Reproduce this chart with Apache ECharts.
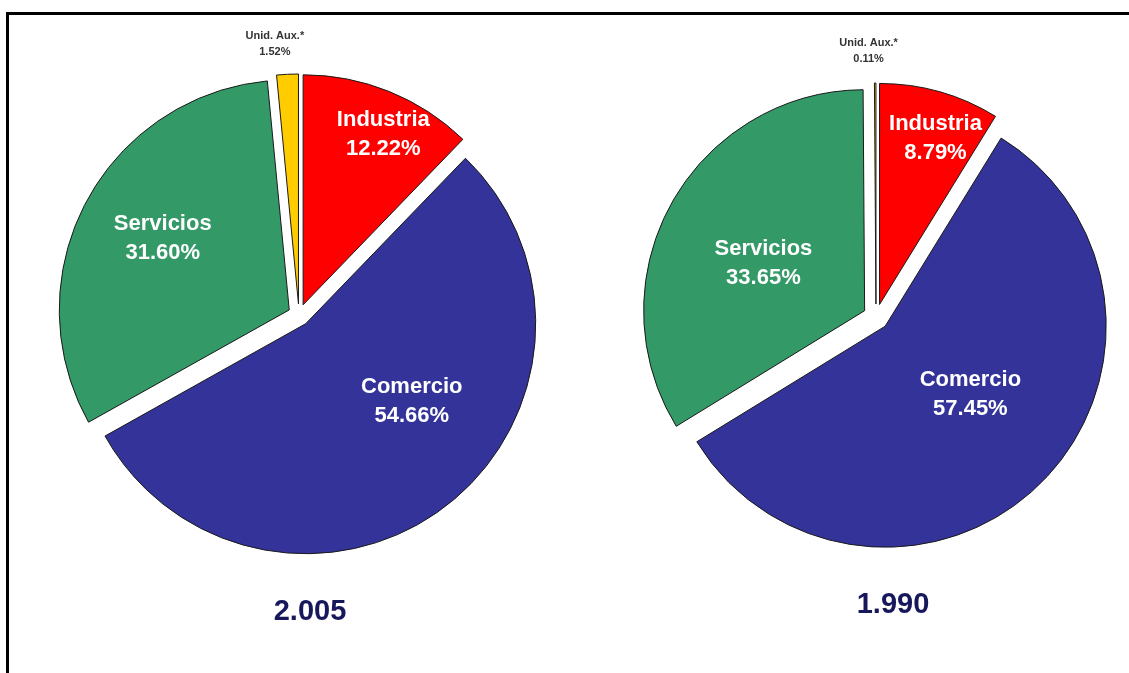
<!DOCTYPE html>
<html>
<head>
<meta charset="utf-8">
<script src="https://cdn.jsdelivr.net/npm/echarts@6/dist/echarts.min.js"></script>
<style>
  html, body { margin: 0; padding: 0; background: #fff; }
  #chart { width: 1129px; height: 673px; }
</style>
</head>
<body>
<div id="chart"></div>
<script>
// Sectores económicos: participación porcentual por año
const categories = ['Industria', 'Comercio', 'Servicios', 'Unid. Aux.*'];
const share2005 = [12.22, 54.66, 31.60, 1.52];
const share1990 = [8.79, 57.45, 33.65, 0.11];
const years = ['2.005', '1.990'];

const sliceColors = ['#FF0000', '#333399', '#339966', '#FFCC00'];

// label nudges (px) from the default inner anchor, per pie and slice
const labelNudge2005 = [[36, -61], [34, -16], [-22, -17], [-18, -142]];
const labelNudge1990 = [[25, -57], [5, -12], [-2, 8], [-7, -140]];

const fontFamily = 'Liberation Sans, Arial, sans-serif';
const mainLabel = { color: '#FFFFFF', fontFamily, fontWeight: 'bold', fontSize: 22, lineHeight: 29 };
const smallLabel = { color: '#333333', fontFamily, fontWeight: 'bold', fontSize: 11, lineHeight: 16 };

function buildData(values) {
  return categories.map((name, i) => ({
    name: name,
    value: values[i],
    selected: true,
    itemStyle: { color: sliceColors[i] },
    label: Object.assign({}, i === 3 ? smallLabel : mainLabel)
  }));
}

function pieSeries(values, nudges, center, radius, gap) {
  return {
    type: 'pie',
    center: center,
    radius: [0, radius],
    startAngle: 90,
    clockwise: true,
    selectedMode: 'multiple',
    selectedOffset: gap,
    avoidLabelOverlap: false,
    silent: true,
    animation: false,
    itemStyle: { borderColor: '#1a1a1a', borderWidth: 1 },
    select: { itemStyle: { borderColor: '#1a1a1a', borderWidth: 1 } },
    label: {
      show: true,
      position: 'inside',
      formatter: p => p.name + '\n' + p.value.toFixed(2) + '%'
    },
    labelLine: { show: false },
    labelLayout: p => ({ dx: nudges[p.dataIndex][0], dy: nudges[p.dataIndex][1] }),
    data: buildData(values)
  };
}

const chart = echarts.init(document.getElementById('chart'), null, { renderer: 'canvas' });

const yearStyle = { color: '#17175C', fontFamily, fontWeight: 'bold', fontSize: 29 };

chart.setOption({
  backgroundColor: '#FFFFFF',
  animation: false,
  title: [
    { text: years[0], left: 305, top: 592, textAlign: 'center', textStyle: yearStyle },
    { text: years[1], left: 888, top: 585, textAlign: 'center', textStyle: yearStyle }
  ],
  graphic: [
    { type: 'line', shape: { x1: 6, y1: 13.5, x2: 1129, y2: 13.5 }, style: { stroke: '#000', lineWidth: 3 } },
    { type: 'line', shape: { x1: 7.5, y1: 12, x2: 7.5, y2: 673 }, style: { stroke: '#000', lineWidth: 3 } }
  ],
  series: [
    pieSeries(share2005, labelNudge2005, [299, 315], 230, 11),
    pieSeries(share1990, labelNudge1990, [876, 317], 221, 13)
  ]
});
</script>
</body>
</html>
